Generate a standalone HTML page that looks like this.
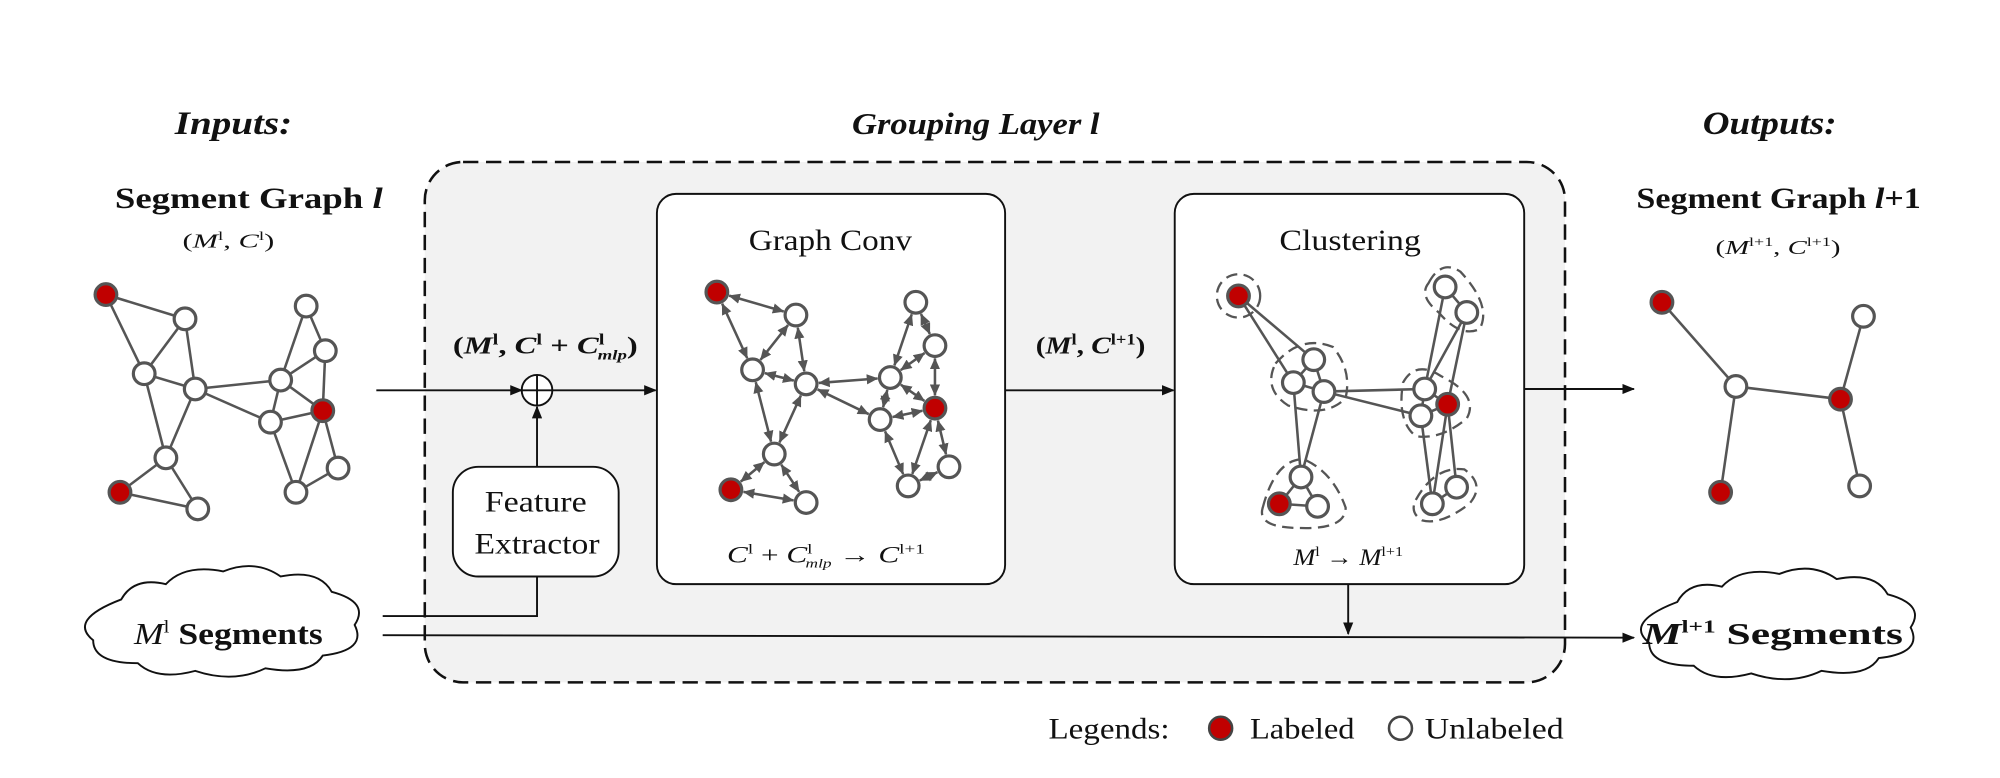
<!DOCTYPE html>
<html><head><meta charset="utf-8"><style>
html,body{margin:0;padding:0;background:#fff;}
svg{display:block}
text{font-family:"Liberation Serif",serif;fill:#111}
</style></head><body>
<svg id="s" width="2000" height="778" viewBox="0 0 1568 610" xmlns="http://www.w3.org/2000/svg">
<defs>
<marker id="ar" markerWidth="10" markerHeight="8" refX="9" refY="4" orient="auto" markerUnits="userSpaceOnUse"><path d="M0,0 L10,4 L0,8 z" fill="#111"/></marker>
<marker id="ga" markerWidth="9" markerHeight="8" refX="8.5" refY="4" orient="auto" markerUnits="userSpaceOnUse"><path d="M0,0 L9,4 L0,8 z" fill="#555"/></marker>
<marker id="gs" markerWidth="9" markerHeight="8" refX="0.5" refY="4" orient="auto" markerUnits="userSpaceOnUse"><path d="M9,0 L0,4 L9,8 z" fill="#555"/></marker>
</defs>
<rect x="333" y="127" width="894" height="408" rx="30" fill="#f2f2f2" stroke="#111" stroke-width="2" stroke-dasharray="12,6"/>
<rect x="515" y="152" width="273" height="306" rx="15" fill="#fff" stroke="#111" stroke-width="1.5"/>
<rect x="921" y="152" width="274" height="306" rx="15" fill="#fff" stroke="#111" stroke-width="1.5"/>
<rect x="355" y="366" width="130" height="86" rx="20" fill="#fff" stroke="#111" stroke-width="1.5"/>
<text x="380" y="401" font-size="23" textLength="80" lengthAdjust="spacingAndGlyphs">Feature</text>
<text x="372" y="434" font-size="23" textLength="98" lengthAdjust="spacingAndGlyphs">Extractor</text>
<g stroke="#111" stroke-width="1.5" fill="none">
<line x1="295" y1="306" x2="409" y2="306" marker-end="url(#ar)"/>
<line x1="433" y1="306" x2="514" y2="306" marker-end="url(#ar)"/>
<line x1="788" y1="306" x2="920" y2="306" marker-end="url(#ar)"/>
<line x1="1195" y1="305" x2="1281" y2="305" marker-end="url(#ar)"/>
<line x1="421" y1="366" x2="421" y2="319" marker-end="url(#ar)"/>
<polyline points="300,483 421,483 421,452"/>
<line x1="300" y1="498" x2="1281" y2="500" marker-end="url(#ar)"/>
<line x1="1057" y1="458" x2="1057" y2="497" marker-end="url(#ar)"/>
<circle cx="421" cy="306" r="12" fill="#fff"/>
<line x1="409" y1="306" x2="433" y2="306"/><line x1="421" y1="294" x2="421" y2="318"/>
</g>
<g fill="#fff" stroke="#111" stroke-width="1.5">
<path d="M95,470 q10,-18 35,-12 q15,-16 45,-10 q25,-10 45,4 q30,-6 40,12 q30,8 18,26 q10,20 -25,24 q-10,16 -45,10 q-25,12 -55,2 q-30,8 -45,-6 q-35,0 -35,-18 q-20,-16 22,-32 z"/>
<path d="M1315,472 q10,-18 35,-12 q15,-16 45,-10 q25,-10 45,4 q30,-6 40,12 q30,8 18,26 q10,20 -25,24 q-10,16 -45,10 q-25,12 -55,2 q-30,8 -45,-6 q-35,0 -35,-18 q-20,-16 22,-32 z"/>
</g>
<text x="137" y="105" font-size="26" font-weight="bold" font-style="italic" textLength="92" lengthAdjust="spacingAndGlyphs">Inputs:</text>
<text x="668" y="105" font-size="24" font-weight="bold" font-style="italic" textLength="194" lengthAdjust="spacingAndGlyphs">Grouping Layer l</text>
<text x="1335" y="105" font-size="26" font-weight="bold" font-style="italic" textLength="105" lengthAdjust="spacingAndGlyphs">Outputs:</text>
<text x="90" y="163" font-size="23" font-weight="bold" textLength="210" lengthAdjust="spacingAndGlyphs">Segment Graph <tspan font-style="italic">l</tspan></text>
<text x="143" y="194" font-size="16" fill="#334" textLength="72" lengthAdjust="spacingAndGlyphs">(<tspan font-style="italic">M</tspan><tspan font-size="10" dy="-6">l</tspan><tspan dy="6">, </tspan><tspan font-style="italic">C</tspan><tspan font-size="10" dy="-6">l</tspan><tspan dy="6">)</tspan></text>
<text x="1283" y="163" font-size="23" font-weight="bold" textLength="223" lengthAdjust="spacingAndGlyphs">Segment Graph <tspan font-style="italic">l</tspan>+1</text>
<text x="1345" y="199" font-size="16" fill="#334" textLength="98" lengthAdjust="spacingAndGlyphs">(<tspan font-style="italic">M</tspan><tspan font-size="10" dy="-6">l+1</tspan><tspan dy="6">, </tspan><tspan font-style="italic">C</tspan><tspan font-size="10" dy="-6">l+1</tspan><tspan dy="6">)</tspan></text>
<text x="355" y="277" font-size="19" font-weight="bold" textLength="145" lengthAdjust="spacingAndGlyphs">(<tspan font-style="italic">M</tspan><tspan font-size="12" dy="-7">l</tspan><tspan dy="7">, </tspan><tspan font-style="italic">C</tspan><tspan font-size="12" dy="-7">l</tspan><tspan dy="7"> + </tspan><tspan font-style="italic">C</tspan><tspan font-size="12" dy="-7">l</tspan><tspan font-size="11" dx="-4" dy="12" font-style="italic">mlp</tspan><tspan dy="-5">)</tspan></text>
<text x="812" y="277" font-size="19" font-weight="bold" textLength="86" lengthAdjust="spacingAndGlyphs">(<tspan font-style="italic">M</tspan><tspan font-size="12" dy="-7">l</tspan><tspan dy="7">, </tspan><tspan font-style="italic">C</tspan><tspan font-size="12" dy="-7">l+1</tspan><tspan dy="7">)</tspan></text>
<text x="587" y="196" font-size="23" textLength="128" lengthAdjust="spacingAndGlyphs">Graph Conv</text>
<text x="1003" y="196" font-size="23" textLength="111" lengthAdjust="spacingAndGlyphs">Clustering</text>
<text x="570" y="441" font-size="18" textLength="155" lengthAdjust="spacingAndGlyphs"><tspan font-style="italic">C</tspan><tspan font-size="11" dy="-7">l</tspan><tspan dy="7"> + </tspan><tspan font-style="italic">C</tspan><tspan font-size="11" dy="-7">l</tspan><tspan font-size="10" dx="-4" dy="11" font-style="italic">mlp</tspan><tspan dy="-4"> → </tspan><tspan font-style="italic">C</tspan><tspan font-size="11" dy="-7">l+1</tspan></text>
<text x="1014" y="443" font-size="18" textLength="86" lengthAdjust="spacingAndGlyphs"><tspan font-style="italic">M</tspan><tspan font-size="11" dy="-7">l</tspan><tspan dy="7"> → </tspan><tspan font-style="italic">M</tspan><tspan font-size="11" dy="-7">l+1</tspan></text>
<text x="105" y="505" font-size="24" textLength="148" lengthAdjust="spacingAndGlyphs"><tspan font-style="italic">M</tspan><tspan font-size="14" dy="-9">l</tspan><tspan dy="9" font-weight="bold"> Segments</tspan></text>
<text x="1288" y="505" font-size="24" font-weight="bold" textLength="204" lengthAdjust="spacingAndGlyphs"><tspan font-style="italic">M</tspan><tspan font-size="14" dy="-9">l+1</tspan><tspan dy="9"> Segments</tspan></text>
<text x="822" y="579" font-size="23" textLength="95" lengthAdjust="spacingAndGlyphs">Legends:</text>
<circle cx="957" cy="571" r="9" fill="#c00000" stroke="#444" stroke-width="2"/>
<text x="980" y="579" font-size="23" textLength="82" lengthAdjust="spacingAndGlyphs">Labeled</text>
<circle cx="1098" cy="571" r="9" fill="#fff" stroke="#444" stroke-width="2"/>
<text x="1117" y="579" font-size="23" textLength="109" lengthAdjust="spacingAndGlyphs">Unlabeled</text>
<g id="g"></g>
</svg>
<script>
var NS="http://www.w3.org/2000/svg",G=document.getElementById("g");
function el(t,a){var e=document.createElementNS(NS,t);for(var k in a)e.setAttribute(k,a[k]);G.appendChild(e);return e;}
var E=[[0,1],[0,2],[1,2],[1,3],[2,3],[2,4],[3,4],[4,5],[4,6],[5,6],[3,9],[3,12],[9,7],[9,8],[8,7],[9,10],[9,12],[8,10],[12,10],[12,13],[10,13],[10,11],[11,13]];
var R=[0,5,10],r=8.5;
function graph(P,edges,arrows,red){
 edges.forEach(function(e){var a=P[e[0]],b=P[e[1]];
  if(arrows){var dx=b[0]-a[0],dy=b[1]-a[1],L=Math.hypot(dx,dy),ux=dx/L,uy=dy/L,o=r+1.5;
   el("line",{x1:a[0]+ux*o,y1:a[1]+uy*o,x2:b[0]-ux*o,y2:b[1]-uy*o,stroke:"#555","stroke-width":2,"marker-end":"url(#ga)","marker-start":"url(#gs)"});}
  else el("line",{x1:a[0],y1:a[1],x2:b[0],y2:b[1],stroke:"#555","stroke-width":2});});
 P.forEach(function(p,i){el("circle",{cx:p[0],cy:p[1],r:r,fill:red.indexOf(i)>=0?"#c00000":"#fff",stroke:"#555","stroke-width":2.5});});
}
graph([[83,231],[145,250],[113,293],[153,305],[130,359],[94,386],[155,399],[240,240],[255,275],[220,298],[253,322],[265,367],[212,331],[232,386]],E,false,R);
graph([[562,229],[624,247],[590,290],[632,301],[607,356],[573,384],[632,394],[718,237],[733,271],[698,296],[733,320],[744,366],[690,329],[712,381]],E,true,R);
var cl=[["ellipse",{cx:971,cy:232,rx:17,ry:17}],["path",{d:"M1000,285 Q1020,262 1045,272 Q1060,290 1055,312 Q1040,328 1010,318 Q990,305 1000,285z"}],
["path",{d:"M990,398 Q1000,360 1022,360 Q1045,370 1055,398 Q1055,415 1020,414 Q985,414 990,398z"}],
["path",{d:"M1120,222 Q1130,203 1145,213 Q1170,240 1160,258 Q1145,265 1128,245 Q1112,232 1120,222z"}],
["path",{d:"M1100,300 Q1110,282 1130,295 Q1160,310 1150,328 Q1130,345 1110,342 Q1095,330 1100,300z"}],
["path",{d:"M1110,392 Q1125,365 1148,368 Q1165,380 1152,395 Q1130,412 1115,408 Q1105,402 1110,392z"}]];
cl.forEach(function(c){c[1].fill="none";c[1].stroke="#555";c[1]["stroke-width"]=1.8;c[1]["stroke-dasharray"]="9,5";el(c[0],c[1]);});
var P3=[[971,232],[1030,282],[1014,300],[1038,307],[1020,374],[1003,395],[1033,397],[1133,225],[1150,245],[1117,305],[1114,326],[1135,317],[1142,382],[1123,395]];
graph(P3,[[0,1],[0,2],[1,2],[1,3],[2,3],[2,4],[3,4],[4,5],[4,6],[5,6],[3,9],[3,10],[7,8],[7,9],[8,9],[8,11],[9,10],[9,11],[10,11],[10,13],[11,13],[11,12],[12,13]],false,[0,5,11]);
graph([[1303,237],[1461,248],[1361,303],[1443,313],[1349,386],[1458,381]],[[0,2],[2,3],[2,4],[3,1],[3,5]],false,[0,3,4]);
</script>
</body></html>
